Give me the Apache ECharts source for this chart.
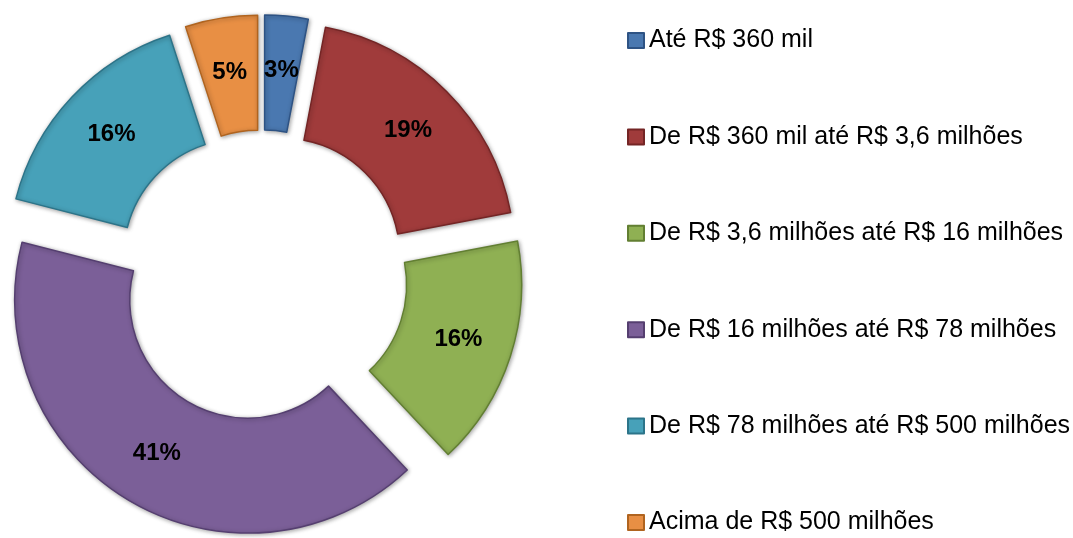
<!DOCTYPE html>
<html>
<head>
<meta charset="utf-8">
<script src="https://cdn.jsdelivr.net/npm/echarts@6/dist/echarts.min.js"></script>
<style>
  html, body { margin: 0; padding: 0; background: #fff; }
  #chart { width: 1073px; height: 538px; }
</style>
</head>
<body>
<div id="chart"></div>
<script>
// faixas de faturamento
const categories = [
  'Até R$ 360 mil',
  'De R$ 360 mil até R$ 3,6 milhões',
  'De R$ 3,6 milhões até R$ 16 milhões',
  'De R$ 16 milhões até R$ 78 milhões',
  'De R$ 78 milhões até R$ 500 milhões',
  'Acima de R$ 500 milhões'
];
const values = [3, 19, 16, 41, 16, 5];
const colors = ['#4A78B0', '#A03B3B', '#8FB053', '#7B5F98', '#47A1B9', '#E88F44'];
const borders = ['#2E5384', '#742525', '#627F32', '#553F70', '#2C7489', '#B0641F'];

const chart = echarts.init(document.getElementById('chart'));

const option = {
  backgroundColor: '#fff',
  animation: false,
  legend: {
    orient: 'vertical',
    left: 627,
    top: 28,
    padding: 0,
    itemWidth: 16,
    itemHeight: 15,
    itemGap: 71.4,
    icon: 'rect',
    selectedMode: false,
    textStyle: {
      fontFamily: 'Liberation Sans',
      fontSize: 25,
      lineHeight: 25,
      color: '#000'
    },
    data: categories
  },
  series: [{
    type: 'pie',
    center: [262, 276],
    radius: [118, 233],
    startAngle: 90,
    clockwise: true,
    selectedMode: 'multiple',
    selectedOffset: 28,
    avoidLabelOverlap: false,
    label: {
      show: true,
      position: 'inside',
      formatter: '{c}%',
      fontFamily: 'Liberation Sans',
      fontWeight: 'bold',
      fontSize: 24,
      color: '#000'
    },
    labelLine: { show: false },
    emphasis: { disabled: true },
    data: categories.map((name, i) => ({
      name: name,
      value: values[i],
      selected: true,
      itemStyle: {
        color: colors[i],
        borderColor: borders[i],
        borderWidth: 1.5,
        shadowBlur: 4,
        shadowOffsetX: 1,
        shadowOffsetY: 1,
        shadowColor: 'rgba(0,0,0,0.35)'
      }
    }))
  }]
};

chart.setOption(option);
</script>
</body>
</html>
